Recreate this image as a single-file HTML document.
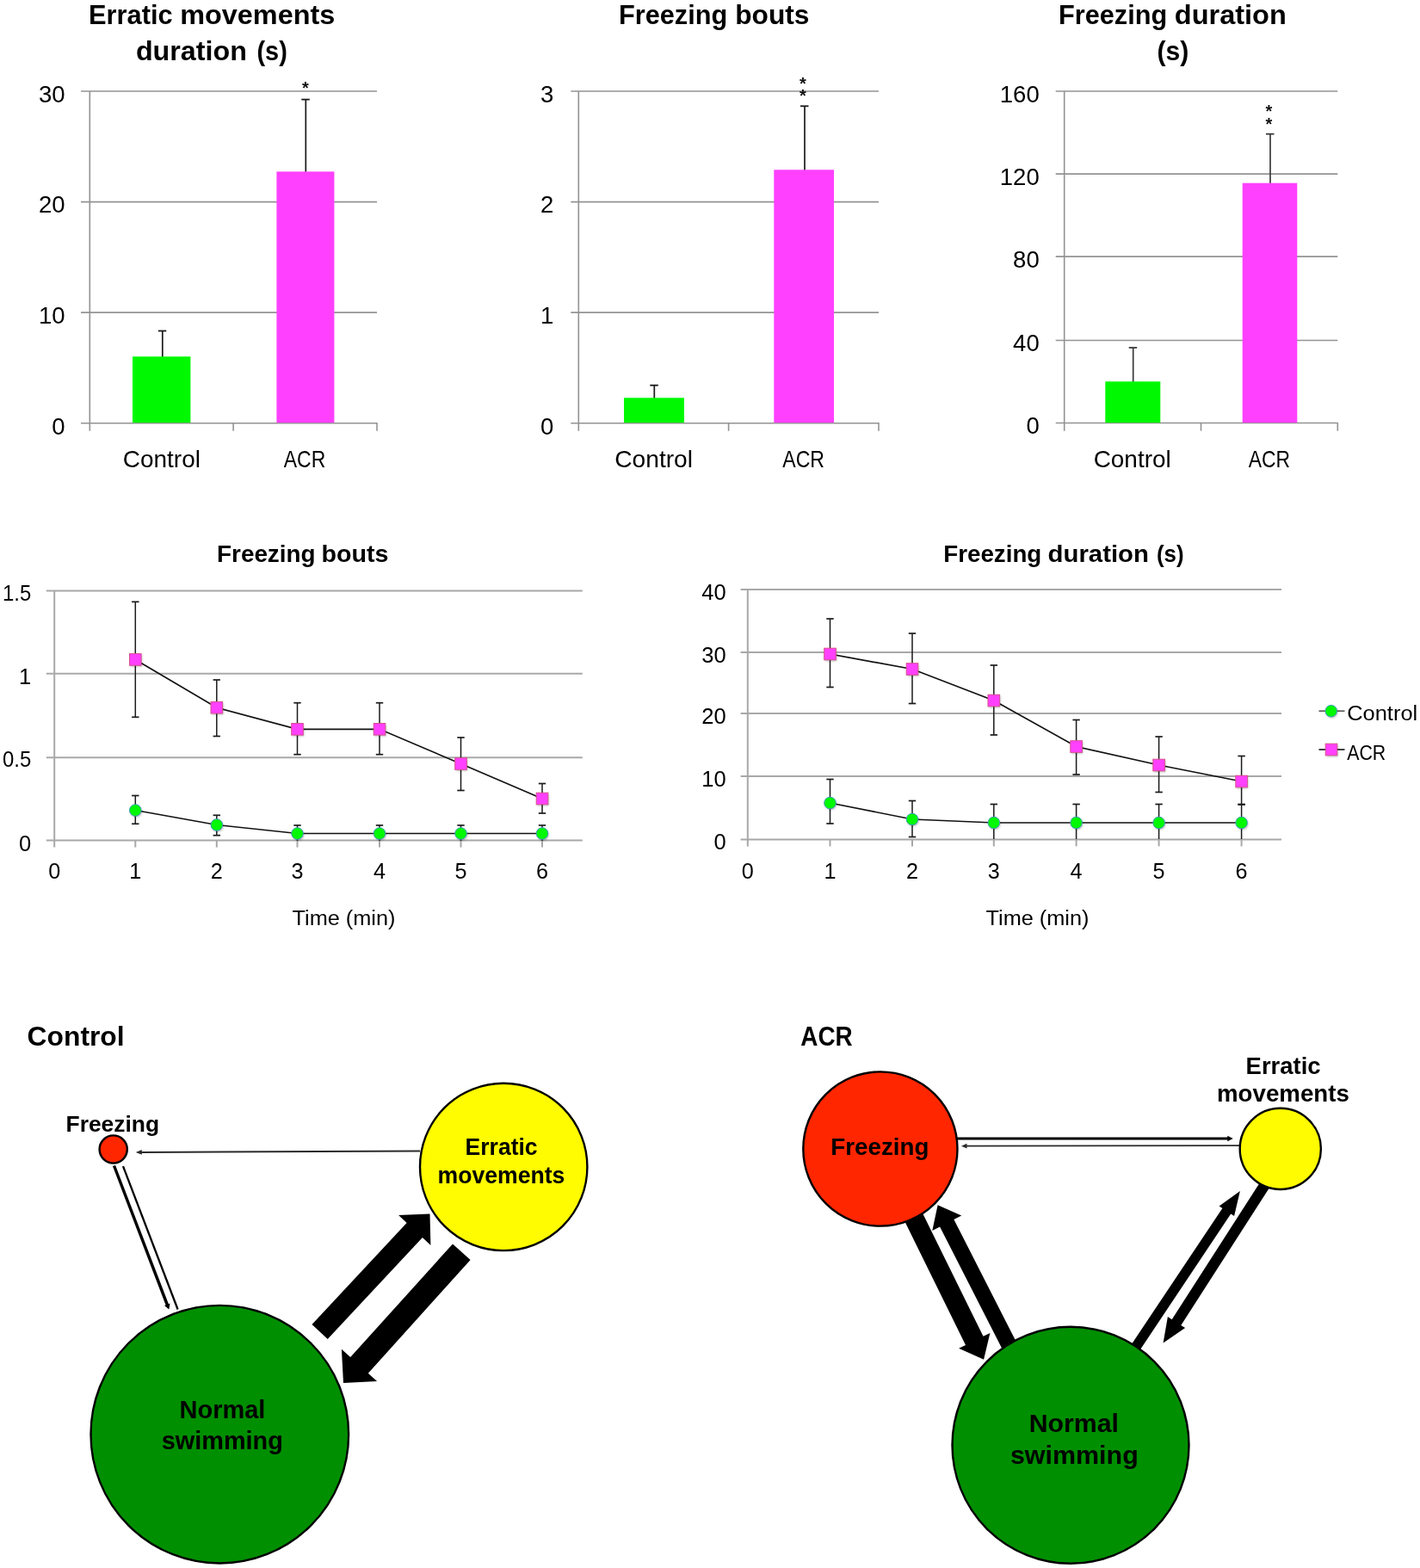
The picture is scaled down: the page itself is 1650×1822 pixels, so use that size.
<!DOCTYPE html>
<html lang="en"><head><meta charset="utf-8"><title>Figure</title>
<style>
html,body{margin:0;padding:0;background:#fff;}
svg{display:block;font-family:'Liberation Sans', 'DejaVu Sans', sans-serif;}
</style></head>
<body>
<svg width="1650" height="1822" viewBox="0 0 1650 1822">
<defs><filter id="bl" x="-50%" y="-50%" width="200%" height="200%"><feGaussianBlur stdDeviation="1.2"/></filter></defs>
<rect width="1650" height="1822" fill="#fff"/>
<g id="bars">
<line x1="94.0" y1="491.7" x2="438.0" y2="491.7" stroke="#939393" stroke-width="1.6"/>
<text x="60.2" y="504.5" font-size="28" textLength="15.3" lengthAdjust="spacingAndGlyphs" fill="#000">0</text>
<line x1="94.0" y1="363.1" x2="438.0" y2="363.1" stroke="#939393" stroke-width="1.6"/>
<text x="44.9" y="375.9" font-size="28" textLength="30.6" lengthAdjust="spacingAndGlyphs" fill="#000">10</text>
<line x1="94.0" y1="234.6" x2="438.0" y2="234.6" stroke="#939393" stroke-width="1.6"/>
<text x="44.9" y="247.4" font-size="28" textLength="30.6" lengthAdjust="spacingAndGlyphs" fill="#000">20</text>
<line x1="94.0" y1="106.0" x2="438.0" y2="106.0" stroke="#939393" stroke-width="1.6"/>
<text x="44.9" y="118.8" font-size="28" textLength="30.6" lengthAdjust="spacingAndGlyphs" fill="#000">30</text>
<line x1="104.3" y1="106.0" x2="104.3" y2="500.7" stroke="#939393" stroke-width="1.6"/>
<line x1="271.1" y1="491.7" x2="271.1" y2="500.7" stroke="#939393" stroke-width="1.6"/>
<line x1="438.0" y1="491.0" x2="438.0" y2="500.7" stroke="#939393" stroke-width="1.6"/>
<line x1="188.8" y1="384.5" x2="188.8" y2="415.3" stroke="#1a1a1a" stroke-width="1.7"/>
<line x1="183.8" y1="384.5" x2="193.3" y2="384.5" stroke="#1a1a1a" stroke-width="1.8"/>
<rect x="154.0" y="414.3" width="67.4" height="76.9" fill="#00f900"/>
<line x1="355.3" y1="115.6" x2="355.3" y2="200.4" stroke="#1a1a1a" stroke-width="1.7"/>
<line x1="350.3" y1="115.6" x2="359.8" y2="115.6" stroke="#1a1a1a" stroke-width="1.8"/>
<rect x="321.4" y="199.4" width="67.0" height="291.8" fill="#ff40ff"/>
<text x="142.8" y="542.8" font-size="27.4" textLength="90.1" lengthAdjust="spacingAndGlyphs" fill="#000">Control</text>
<text x="329.8" y="542.8" font-size="27.4" textLength="48.4" lengthAdjust="spacingAndGlyphs" fill="#000">ACR</text>
<text x="355.0" y="109.0" font-size="20" font-weight="700" text-anchor="middle" fill="#111">*</text>
<line x1="663.3" y1="491.7" x2="1021.0" y2="491.7" stroke="#939393" stroke-width="1.6"/>
<text x="628.0" y="504.5" font-size="28" textLength="15.3" lengthAdjust="spacingAndGlyphs" fill="#000">0</text>
<line x1="663.3" y1="363.1" x2="1021.0" y2="363.1" stroke="#939393" stroke-width="1.6"/>
<text x="628.0" y="375.9" font-size="28" textLength="15.3" lengthAdjust="spacingAndGlyphs" fill="#000">1</text>
<line x1="663.3" y1="234.6" x2="1021.0" y2="234.6" stroke="#939393" stroke-width="1.6"/>
<text x="628.0" y="247.4" font-size="28" textLength="15.3" lengthAdjust="spacingAndGlyphs" fill="#000">2</text>
<line x1="663.3" y1="106.0" x2="1021.0" y2="106.0" stroke="#939393" stroke-width="1.6"/>
<text x="628.0" y="118.8" font-size="28" textLength="15.3" lengthAdjust="spacingAndGlyphs" fill="#000">3</text>
<line x1="672.3" y1="106.0" x2="672.3" y2="500.7" stroke="#939393" stroke-width="1.6"/>
<line x1="846.6" y1="491.7" x2="846.6" y2="500.7" stroke="#939393" stroke-width="1.6"/>
<line x1="1021.0" y1="491.0" x2="1021.0" y2="500.7" stroke="#939393" stroke-width="1.6"/>
<line x1="760.3" y1="447.7" x2="760.3" y2="463.3" stroke="#1a1a1a" stroke-width="1.7"/>
<line x1="755.3" y1="447.7" x2="764.8" y2="447.7" stroke="#1a1a1a" stroke-width="1.8"/>
<rect x="725.0" y="462.3" width="70.0" height="28.9" fill="#00f900"/>
<line x1="935.0" y1="123.3" x2="935.0" y2="198.3" stroke="#1a1a1a" stroke-width="1.7"/>
<line x1="930.0" y1="123.3" x2="939.5" y2="123.3" stroke="#1a1a1a" stroke-width="1.8"/>
<rect x="899.3" y="197.3" width="69.7" height="293.9" fill="#ff40ff"/>
<text x="714.3" y="542.8" font-size="27.4" textLength="90.7" lengthAdjust="spacingAndGlyphs" fill="#000">Control</text>
<text x="909.3" y="542.8" font-size="27.4" textLength="48.7" lengthAdjust="spacingAndGlyphs" fill="#000">ACR</text>
<text x="933.0" y="104.0" font-size="20" font-weight="700" text-anchor="middle" fill="#111">*</text>
<text x="933.0" y="118.0" font-size="20" font-weight="700" text-anchor="middle" fill="#111">*</text>
<line x1="1226.7" y1="491.5" x2="1554.3" y2="491.5" stroke="#939393" stroke-width="1.6"/>
<text x="1192.4" y="504.3" font-size="28" textLength="15.3" lengthAdjust="spacingAndGlyphs" fill="#000">0</text>
<line x1="1226.7" y1="395.5" x2="1554.3" y2="395.5" stroke="#939393" stroke-width="1.6"/>
<text x="1177.1" y="408.3" font-size="28" textLength="30.6" lengthAdjust="spacingAndGlyphs" fill="#000">40</text>
<line x1="1226.7" y1="298.1" x2="1554.3" y2="298.1" stroke="#939393" stroke-width="1.6"/>
<text x="1177.1" y="310.9" font-size="28" textLength="30.6" lengthAdjust="spacingAndGlyphs" fill="#000">80</text>
<line x1="1226.7" y1="202.1" x2="1554.3" y2="202.1" stroke="#939393" stroke-width="1.6"/>
<text x="1161.8" y="214.9" font-size="28" textLength="45.9" lengthAdjust="spacingAndGlyphs" fill="#000">120</text>
<line x1="1226.7" y1="106.0" x2="1554.3" y2="106.0" stroke="#939393" stroke-width="1.6"/>
<text x="1161.8" y="118.8" font-size="28" textLength="45.9" lengthAdjust="spacingAndGlyphs" fill="#000">160</text>
<line x1="1236.7" y1="106.0" x2="1236.7" y2="500.7" stroke="#939393" stroke-width="1.6"/>
<line x1="1395.5" y1="491.7" x2="1395.5" y2="500.7" stroke="#939393" stroke-width="1.6"/>
<line x1="1554.3" y1="491.0" x2="1554.3" y2="500.7" stroke="#939393" stroke-width="1.6"/>
<line x1="1316.7" y1="404.0" x2="1316.7" y2="444.3" stroke="#3a3a3a" stroke-width="1.7"/>
<line x1="1311.7" y1="404.0" x2="1321.2" y2="404.0" stroke="#3a3a3a" stroke-width="1.8"/>
<rect x="1284.3" y="443.3" width="64.0" height="47.9" fill="#00f900"/>
<line x1="1476.0" y1="155.7" x2="1476.0" y2="213.7" stroke="#3a3a3a" stroke-width="1.7"/>
<line x1="1471.0" y1="155.7" x2="1480.5" y2="155.7" stroke="#3a3a3a" stroke-width="1.8"/>
<rect x="1443.7" y="212.7" width="63.6" height="278.5" fill="#ff40ff"/>
<text x="1270.7" y="542.8" font-size="27.4" textLength="90.0" lengthAdjust="spacingAndGlyphs" fill="#000">Control</text>
<text x="1450.7" y="542.8" font-size="27.4" textLength="48.3" lengthAdjust="spacingAndGlyphs" fill="#000">ACR</text>
<text x="1474.3" y="135.7" font-size="20" font-weight="700" text-anchor="middle" fill="#111">*</text>
<text x="1474.3" y="151.4" font-size="20" font-weight="700" text-anchor="middle" fill="#111">*</text>
</g>
<g id="titles">
<text y="28.2" font-size="31.5" font-weight="700" fill="#000"><tspan x="103.0" textLength="97.6" lengthAdjust="spacingAndGlyphs">Erratic</tspan> <tspan x="209.2" textLength="180.1" lengthAdjust="spacingAndGlyphs">movements</tspan></text>
<text y="69.9" font-size="31.5" font-weight="700" fill="#000"><tspan x="157.9" textLength="129.0" lengthAdjust="spacingAndGlyphs">duration</tspan> <tspan x="298.5" textLength="35.3" lengthAdjust="spacingAndGlyphs">(s)</tspan></text>
<text y="28.3" font-size="31.5" font-weight="700" fill="#000"><tspan x="719.0" textLength="126.2" lengthAdjust="spacingAndGlyphs">Freezing</tspan> <tspan x="854.2" textLength="86.3" lengthAdjust="spacingAndGlyphs">bouts</tspan></text>
<text y="28.3" font-size="31.5" font-weight="700" fill="#000"><tspan x="1230.0" textLength="126.2" lengthAdjust="spacingAndGlyphs">Freezing</tspan> <tspan x="1364.8" textLength="130.0" lengthAdjust="spacingAndGlyphs">duration</tspan></text>
<text y="70.3" font-size="31.5" font-weight="700" fill="#000"><tspan x="1344.5" textLength="36.9" lengthAdjust="spacingAndGlyphs">(s)</tspan></text>
<text y="653.2" font-size="28.3" font-weight="700" fill="#000"><tspan x="252.1" textLength="114.4" lengthAdjust="spacingAndGlyphs">Freezing</tspan> <tspan x="373.5" textLength="78.0" lengthAdjust="spacingAndGlyphs">bouts</tspan></text>
<text y="653.1" font-size="28.3" font-weight="700" fill="#000"><tspan x="1096.3" textLength="114.0" lengthAdjust="spacingAndGlyphs">Freezing</tspan> <tspan x="1217.6" textLength="117.4" lengthAdjust="spacingAndGlyphs">duration</tspan> <tspan x="1343.9" textLength="31.7" lengthAdjust="spacingAndGlyphs">(s)</tspan></text>
</g>
<g id="lines">
<line x1="53.8" y1="976.6" x2="676.8" y2="976.6" stroke="#a8a8a8" stroke-width="2.0"/>
<text x="22.1" y="988.5" font-size="25" textLength="14.2" lengthAdjust="spacingAndGlyphs" fill="#000">0</text>
<line x1="53.8" y1="880.3" x2="676.8" y2="880.3" stroke="#a8a8a8" stroke-width="2.0"/>
<text x="3.1" y="891.4" font-size="25" textLength="33.2" lengthAdjust="spacingAndGlyphs" fill="#000">0.5</text>
<line x1="53.8" y1="782.7" x2="676.8" y2="782.7" stroke="#a8a8a8" stroke-width="2.0"/>
<text x="22.1" y="795.4" font-size="25" textLength="14.2" lengthAdjust="spacingAndGlyphs" fill="#000">1</text>
<line x1="53.8" y1="686.6" x2="676.8" y2="686.6" stroke="#a8a8a8" stroke-width="2.0"/>
<text x="3.1" y="697.5" font-size="25" textLength="33.2" lengthAdjust="spacingAndGlyphs" fill="#000">1.5</text>
<line x1="63.2" y1="686.6" x2="63.2" y2="984.6" stroke="#a8a8a8" stroke-width="2.0"/>
<text x="63.2" y="1021.4" font-size="25.2" text-anchor="middle" fill="#000">0</text>
<line x1="157.3" y1="976.6" x2="157.3" y2="984.6" stroke="#a8a8a8" stroke-width="2.0"/>
<text x="157.3" y="1021.4" font-size="25.2" text-anchor="middle" fill="#000">1</text>
<line x1="251.8" y1="976.6" x2="251.8" y2="984.6" stroke="#a8a8a8" stroke-width="2.0"/>
<text x="251.8" y="1021.4" font-size="25.2" text-anchor="middle" fill="#000">2</text>
<line x1="345.5" y1="976.6" x2="345.5" y2="984.6" stroke="#a8a8a8" stroke-width="2.0"/>
<text x="345.5" y="1021.4" font-size="25.2" text-anchor="middle" fill="#000">3</text>
<line x1="441.0" y1="976.6" x2="441.0" y2="984.6" stroke="#a8a8a8" stroke-width="2.0"/>
<text x="441.0" y="1021.4" font-size="25.2" text-anchor="middle" fill="#000">4</text>
<line x1="535.5" y1="976.6" x2="535.5" y2="984.6" stroke="#a8a8a8" stroke-width="2.0"/>
<text x="535.5" y="1021.4" font-size="25.2" text-anchor="middle" fill="#000">5</text>
<line x1="630.0" y1="976.6" x2="630.0" y2="984.6" stroke="#a8a8a8" stroke-width="2.0"/>
<text x="630.0" y="1021.4" font-size="25.2" text-anchor="middle" fill="#000">6</text>
<text x="339.5" y="1075.3" font-size="24.7" textLength="120.0" lengthAdjust="spacingAndGlyphs" fill="#000">Time (min)</text>
<line x1="157.3" y1="924.5" x2="157.3" y2="957.3" stroke="#1a1a1a" stroke-width="1.5"/>
<line x1="153.1" y1="924.5" x2="161.5" y2="924.5" stroke="#1a1a1a" stroke-width="1.7"/>
<line x1="153.1" y1="957.3" x2="161.5" y2="957.3" stroke="#1a1a1a" stroke-width="1.7"/>
<line x1="251.8" y1="947.3" x2="251.8" y2="970.7" stroke="#1a1a1a" stroke-width="1.5"/>
<line x1="247.6" y1="947.3" x2="256.0" y2="947.3" stroke="#1a1a1a" stroke-width="1.7"/>
<line x1="247.6" y1="970.7" x2="256.0" y2="970.7" stroke="#1a1a1a" stroke-width="1.7"/>
<line x1="345.5" y1="959.0" x2="345.5" y2="977.0" stroke="#1a1a1a" stroke-width="1.5"/>
<line x1="341.3" y1="959.0" x2="349.7" y2="959.0" stroke="#1a1a1a" stroke-width="1.7"/>
<line x1="441.0" y1="959.0" x2="441.0" y2="977.0" stroke="#1a1a1a" stroke-width="1.5"/>
<line x1="436.8" y1="959.0" x2="445.2" y2="959.0" stroke="#1a1a1a" stroke-width="1.7"/>
<line x1="535.5" y1="959.0" x2="535.5" y2="977.0" stroke="#1a1a1a" stroke-width="1.5"/>
<line x1="531.3" y1="959.0" x2="539.7" y2="959.0" stroke="#1a1a1a" stroke-width="1.7"/>
<line x1="630.0" y1="959.0" x2="630.0" y2="977.0" stroke="#1a1a1a" stroke-width="1.5"/>
<line x1="625.8" y1="959.0" x2="634.2" y2="959.0" stroke="#1a1a1a" stroke-width="1.7"/>
<line x1="157.3" y1="699.3" x2="157.3" y2="833.3" stroke="#1a1a1a" stroke-width="1.5"/>
<line x1="153.1" y1="699.3" x2="161.5" y2="699.3" stroke="#1a1a1a" stroke-width="1.7"/>
<line x1="153.1" y1="833.3" x2="161.5" y2="833.3" stroke="#1a1a1a" stroke-width="1.7"/>
<line x1="251.8" y1="790.0" x2="251.8" y2="855.5" stroke="#1a1a1a" stroke-width="1.5"/>
<line x1="247.6" y1="790.0" x2="256.0" y2="790.0" stroke="#1a1a1a" stroke-width="1.7"/>
<line x1="247.6" y1="855.5" x2="256.0" y2="855.5" stroke="#1a1a1a" stroke-width="1.7"/>
<line x1="345.5" y1="816.7" x2="345.5" y2="876.7" stroke="#1a1a1a" stroke-width="1.5"/>
<line x1="341.3" y1="816.7" x2="349.7" y2="816.7" stroke="#1a1a1a" stroke-width="1.7"/>
<line x1="341.3" y1="876.7" x2="349.7" y2="876.7" stroke="#1a1a1a" stroke-width="1.7"/>
<line x1="441.0" y1="816.7" x2="441.0" y2="876.7" stroke="#1a1a1a" stroke-width="1.5"/>
<line x1="436.8" y1="816.7" x2="445.2" y2="816.7" stroke="#1a1a1a" stroke-width="1.7"/>
<line x1="436.8" y1="876.7" x2="445.2" y2="876.7" stroke="#1a1a1a" stroke-width="1.7"/>
<line x1="535.5" y1="857.0" x2="535.5" y2="918.5" stroke="#1a1a1a" stroke-width="1.5"/>
<line x1="531.3" y1="857.0" x2="539.7" y2="857.0" stroke="#1a1a1a" stroke-width="1.7"/>
<line x1="531.3" y1="918.5" x2="539.7" y2="918.5" stroke="#1a1a1a" stroke-width="1.7"/>
<line x1="630.0" y1="910.5" x2="630.0" y2="945.0" stroke="#1a1a1a" stroke-width="1.5"/>
<line x1="625.8" y1="910.5" x2="634.2" y2="910.5" stroke="#1a1a1a" stroke-width="1.7"/>
<line x1="625.8" y1="945.0" x2="634.2" y2="945.0" stroke="#1a1a1a" stroke-width="1.7"/>
<polyline points="157.3,941.5 251.8,958.5 345.5,968.5 441.0,968.5 535.5,968.5 630.0,968.5" fill="none" stroke="#111" stroke-width="1.7"/>
<polyline points="157.3,766.4 251.8,822.2 345.5,847.3 441.0,847.3 535.5,887.5 630.0,928.0" fill="none" stroke="#111" stroke-width="1.7"/>
<circle cx="158.3" cy="943.0" r="6.8" fill="#000" opacity="0.25" filter="url(#bl)"/>
<circle cx="157.3" cy="941.5" r="6.8" fill="#00f900" stroke="#3f9bbd" stroke-width="1"/>
<circle cx="252.8" cy="960.0" r="6.8" fill="#000" opacity="0.25" filter="url(#bl)"/>
<circle cx="251.8" cy="958.5" r="6.8" fill="#00f900" stroke="#3f9bbd" stroke-width="1"/>
<circle cx="346.5" cy="970.0" r="6.8" fill="#000" opacity="0.25" filter="url(#bl)"/>
<circle cx="345.5" cy="968.5" r="6.8" fill="#00f900" stroke="#3f9bbd" stroke-width="1"/>
<circle cx="442.0" cy="970.0" r="6.8" fill="#000" opacity="0.25" filter="url(#bl)"/>
<circle cx="441.0" cy="968.5" r="6.8" fill="#00f900" stroke="#3f9bbd" stroke-width="1"/>
<circle cx="536.5" cy="970.0" r="6.8" fill="#000" opacity="0.25" filter="url(#bl)"/>
<circle cx="535.5" cy="968.5" r="6.8" fill="#00f900" stroke="#3f9bbd" stroke-width="1"/>
<circle cx="631.0" cy="970.0" r="6.8" fill="#000" opacity="0.25" filter="url(#bl)"/>
<circle cx="630.0" cy="968.5" r="6.8" fill="#00f900" stroke="#3f9bbd" stroke-width="1"/>
<rect x="151.5" y="761.1" width="13.6" height="13.6" fill="#000" opacity="0.25" filter="url(#bl)"/>
<rect x="150.5" y="759.6" width="13.6" height="13.6" fill="#ff40ff" stroke="#d8508c" stroke-width="1"/>
<rect x="246.0" y="816.9" width="13.6" height="13.6" fill="#000" opacity="0.25" filter="url(#bl)"/>
<rect x="245.0" y="815.4" width="13.6" height="13.6" fill="#ff40ff" stroke="#d8508c" stroke-width="1"/>
<rect x="339.7" y="842.0" width="13.6" height="13.6" fill="#000" opacity="0.25" filter="url(#bl)"/>
<rect x="338.7" y="840.5" width="13.6" height="13.6" fill="#ff40ff" stroke="#d8508c" stroke-width="1"/>
<rect x="435.2" y="842.0" width="13.6" height="13.6" fill="#000" opacity="0.25" filter="url(#bl)"/>
<rect x="434.2" y="840.5" width="13.6" height="13.6" fill="#ff40ff" stroke="#d8508c" stroke-width="1"/>
<rect x="529.7" y="882.2" width="13.6" height="13.6" fill="#000" opacity="0.25" filter="url(#bl)"/>
<rect x="528.7" y="880.7" width="13.6" height="13.6" fill="#ff40ff" stroke="#d8508c" stroke-width="1"/>
<rect x="624.2" y="922.7" width="13.6" height="13.6" fill="#000" opacity="0.25" filter="url(#bl)"/>
<rect x="623.2" y="921.2" width="13.6" height="13.6" fill="#ff40ff" stroke="#d8508c" stroke-width="1"/>
<line x1="860.6" y1="975.4" x2="1489.0" y2="975.4" stroke="#a8a8a8" stroke-width="2.0"/>
<text x="829.4" y="987.0" font-size="25" textLength="14.2" lengthAdjust="spacingAndGlyphs" fill="#000">0</text>
<line x1="860.6" y1="902.1" x2="1489.0" y2="902.1" stroke="#a8a8a8" stroke-width="2.0"/>
<text x="815.2" y="914.2" font-size="25" textLength="28.4" lengthAdjust="spacingAndGlyphs" fill="#000">10</text>
<line x1="860.6" y1="829.1" x2="1489.0" y2="829.1" stroke="#a8a8a8" stroke-width="2.0"/>
<text x="815.2" y="841.1" font-size="25" textLength="28.4" lengthAdjust="spacingAndGlyphs" fill="#000">20</text>
<line x1="860.6" y1="758.0" x2="1489.0" y2="758.0" stroke="#a8a8a8" stroke-width="2.0"/>
<text x="815.2" y="770.2" font-size="25" textLength="28.4" lengthAdjust="spacingAndGlyphs" fill="#000">30</text>
<line x1="860.6" y1="685.0" x2="1489.0" y2="685.0" stroke="#a8a8a8" stroke-width="2.0"/>
<text x="815.2" y="697.4" font-size="25" textLength="28.4" lengthAdjust="spacingAndGlyphs" fill="#000">40</text>
<line x1="868.8" y1="685.0" x2="868.8" y2="983.4" stroke="#a8a8a8" stroke-width="2.0"/>
<text x="868.8" y="1021.4" font-size="25.2" text-anchor="middle" fill="#000">0</text>
<line x1="964.5" y1="975.4" x2="964.5" y2="983.4" stroke="#a8a8a8" stroke-width="2.0"/>
<text x="964.5" y="1021.4" font-size="25.2" text-anchor="middle" fill="#000">1</text>
<line x1="1060.0" y1="975.4" x2="1060.0" y2="983.4" stroke="#a8a8a8" stroke-width="2.0"/>
<text x="1060.0" y="1021.4" font-size="25.2" text-anchor="middle" fill="#000">2</text>
<line x1="1154.8" y1="975.4" x2="1154.8" y2="983.4" stroke="#a8a8a8" stroke-width="2.0"/>
<text x="1154.8" y="1021.4" font-size="25.2" text-anchor="middle" fill="#000">3</text>
<line x1="1250.6" y1="975.4" x2="1250.6" y2="983.4" stroke="#a8a8a8" stroke-width="2.0"/>
<text x="1250.6" y="1021.4" font-size="25.2" text-anchor="middle" fill="#000">4</text>
<line x1="1346.6" y1="975.4" x2="1346.6" y2="983.4" stroke="#a8a8a8" stroke-width="2.0"/>
<text x="1346.6" y="1021.4" font-size="25.2" text-anchor="middle" fill="#000">5</text>
<line x1="1442.6" y1="975.4" x2="1442.6" y2="983.4" stroke="#a8a8a8" stroke-width="2.0"/>
<text x="1442.6" y="1021.4" font-size="25.2" text-anchor="middle" fill="#000">6</text>
<text x="1145.5" y="1075.3" font-size="24.7" textLength="120.0" lengthAdjust="spacingAndGlyphs" fill="#000">Time (min)</text>
<line x1="964.5" y1="905.5" x2="964.5" y2="957.0" stroke="#1a1a1a" stroke-width="1.5"/>
<line x1="960.3" y1="905.5" x2="968.7" y2="905.5" stroke="#1a1a1a" stroke-width="1.7"/>
<line x1="960.3" y1="957.0" x2="968.7" y2="957.0" stroke="#1a1a1a" stroke-width="1.7"/>
<line x1="1060.0" y1="930.5" x2="1060.0" y2="972.5" stroke="#1a1a1a" stroke-width="1.5"/>
<line x1="1055.8" y1="930.5" x2="1064.2" y2="930.5" stroke="#1a1a1a" stroke-width="1.7"/>
<line x1="1055.8" y1="972.5" x2="1064.2" y2="972.5" stroke="#1a1a1a" stroke-width="1.7"/>
<line x1="1154.8" y1="934.5" x2="1154.8" y2="975.0" stroke="#1a1a1a" stroke-width="1.5"/>
<line x1="1150.6" y1="934.5" x2="1159.0" y2="934.5" stroke="#1a1a1a" stroke-width="1.7"/>
<line x1="1250.6" y1="934.5" x2="1250.6" y2="975.0" stroke="#1a1a1a" stroke-width="1.5"/>
<line x1="1246.4" y1="934.5" x2="1254.8" y2="934.5" stroke="#1a1a1a" stroke-width="1.7"/>
<line x1="1346.6" y1="934.5" x2="1346.6" y2="975.0" stroke="#1a1a1a" stroke-width="1.5"/>
<line x1="1342.4" y1="934.5" x2="1350.8" y2="934.5" stroke="#1a1a1a" stroke-width="1.7"/>
<line x1="1442.6" y1="934.5" x2="1442.6" y2="975.0" stroke="#1a1a1a" stroke-width="1.5"/>
<line x1="1438.4" y1="934.5" x2="1446.8" y2="934.5" stroke="#1a1a1a" stroke-width="1.7"/>
<line x1="964.5" y1="719.0" x2="964.5" y2="798.5" stroke="#1a1a1a" stroke-width="1.5"/>
<line x1="960.3" y1="719.0" x2="968.7" y2="719.0" stroke="#1a1a1a" stroke-width="1.7"/>
<line x1="960.3" y1="798.5" x2="968.7" y2="798.5" stroke="#1a1a1a" stroke-width="1.7"/>
<line x1="1060.0" y1="736.0" x2="1060.0" y2="817.5" stroke="#1a1a1a" stroke-width="1.5"/>
<line x1="1055.8" y1="736.0" x2="1064.2" y2="736.0" stroke="#1a1a1a" stroke-width="1.7"/>
<line x1="1055.8" y1="817.5" x2="1064.2" y2="817.5" stroke="#1a1a1a" stroke-width="1.7"/>
<line x1="1154.8" y1="773.0" x2="1154.8" y2="854.0" stroke="#1a1a1a" stroke-width="1.5"/>
<line x1="1150.6" y1="773.0" x2="1159.0" y2="773.0" stroke="#1a1a1a" stroke-width="1.7"/>
<line x1="1150.6" y1="854.0" x2="1159.0" y2="854.0" stroke="#1a1a1a" stroke-width="1.7"/>
<line x1="1250.6" y1="836.5" x2="1250.6" y2="900.0" stroke="#1a1a1a" stroke-width="1.5"/>
<line x1="1246.4" y1="836.5" x2="1254.8" y2="836.5" stroke="#1a1a1a" stroke-width="1.7"/>
<line x1="1246.4" y1="900.0" x2="1254.8" y2="900.0" stroke="#1a1a1a" stroke-width="1.7"/>
<line x1="1346.6" y1="856.0" x2="1346.6" y2="920.5" stroke="#1a1a1a" stroke-width="1.5"/>
<line x1="1342.4" y1="856.0" x2="1350.8" y2="856.0" stroke="#1a1a1a" stroke-width="1.7"/>
<line x1="1342.4" y1="920.5" x2="1350.8" y2="920.5" stroke="#1a1a1a" stroke-width="1.7"/>
<line x1="1442.6" y1="878.5" x2="1442.6" y2="935.0" stroke="#1a1a1a" stroke-width="1.5"/>
<line x1="1438.4" y1="878.5" x2="1446.8" y2="878.5" stroke="#1a1a1a" stroke-width="1.7"/>
<line x1="1438.4" y1="935.0" x2="1446.8" y2="935.0" stroke="#1a1a1a" stroke-width="1.7"/>
<polyline points="964.5,933.0 1060.0,952.0 1154.8,956.0 1250.6,956.0 1346.6,956.0 1442.6,956.0" fill="none" stroke="#111" stroke-width="1.7"/>
<polyline points="964.5,760.0 1060.0,777.5 1154.8,814.0 1250.6,867.5 1346.6,889.0 1442.6,908.0" fill="none" stroke="#111" stroke-width="1.7"/>
<circle cx="965.5" cy="934.5" r="6.8" fill="#000" opacity="0.25" filter="url(#bl)"/>
<circle cx="964.5" cy="933.0" r="6.8" fill="#00f900" stroke="#3f9bbd" stroke-width="1"/>
<circle cx="1061.0" cy="953.5" r="6.8" fill="#000" opacity="0.25" filter="url(#bl)"/>
<circle cx="1060.0" cy="952.0" r="6.8" fill="#00f900" stroke="#3f9bbd" stroke-width="1"/>
<circle cx="1155.8" cy="957.5" r="6.8" fill="#000" opacity="0.25" filter="url(#bl)"/>
<circle cx="1154.8" cy="956.0" r="6.8" fill="#00f900" stroke="#3f9bbd" stroke-width="1"/>
<circle cx="1251.6" cy="957.5" r="6.8" fill="#000" opacity="0.25" filter="url(#bl)"/>
<circle cx="1250.6" cy="956.0" r="6.8" fill="#00f900" stroke="#3f9bbd" stroke-width="1"/>
<circle cx="1347.6" cy="957.5" r="6.8" fill="#000" opacity="0.25" filter="url(#bl)"/>
<circle cx="1346.6" cy="956.0" r="6.8" fill="#00f900" stroke="#3f9bbd" stroke-width="1"/>
<circle cx="1443.6" cy="957.5" r="6.8" fill="#000" opacity="0.25" filter="url(#bl)"/>
<circle cx="1442.6" cy="956.0" r="6.8" fill="#00f900" stroke="#3f9bbd" stroke-width="1"/>
<rect x="958.7" y="754.7" width="13.6" height="13.6" fill="#000" opacity="0.25" filter="url(#bl)"/>
<rect x="957.7" y="753.2" width="13.6" height="13.6" fill="#ff40ff" stroke="#d8508c" stroke-width="1"/>
<rect x="1054.2" y="772.2" width="13.6" height="13.6" fill="#000" opacity="0.25" filter="url(#bl)"/>
<rect x="1053.2" y="770.7" width="13.6" height="13.6" fill="#ff40ff" stroke="#d8508c" stroke-width="1"/>
<rect x="1149.0" y="808.7" width="13.6" height="13.6" fill="#000" opacity="0.25" filter="url(#bl)"/>
<rect x="1148.0" y="807.2" width="13.6" height="13.6" fill="#ff40ff" stroke="#d8508c" stroke-width="1"/>
<rect x="1244.8" y="862.2" width="13.6" height="13.6" fill="#000" opacity="0.25" filter="url(#bl)"/>
<rect x="1243.8" y="860.7" width="13.6" height="13.6" fill="#ff40ff" stroke="#d8508c" stroke-width="1"/>
<rect x="1340.8" y="883.7" width="13.6" height="13.6" fill="#000" opacity="0.25" filter="url(#bl)"/>
<rect x="1339.8" y="882.2" width="13.6" height="13.6" fill="#ff40ff" stroke="#d8508c" stroke-width="1"/>
<rect x="1436.8" y="902.7" width="13.6" height="13.6" fill="#000" opacity="0.25" filter="url(#bl)"/>
<rect x="1435.8" y="901.2" width="13.6" height="13.6" fill="#ff40ff" stroke="#d8508c" stroke-width="1"/>
<line x1="1532.5" y1="826.2" x2="1562.5" y2="826.2" stroke="#555" stroke-width="1.6"/>
<circle cx="1547.7" cy="827.7" r="6.8" fill="#000" opacity="0.25" filter="url(#bl)"/>
<circle cx="1546.7" cy="826.2" r="6.8" fill="#00f900" stroke="#3f9bbd" stroke-width="1"/>
<text x="1565.2" y="837.0" font-size="24.7" textLength="82.0" lengthAdjust="spacingAndGlyphs" fill="#000">Control</text>
<line x1="1532.5" y1="871.0" x2="1562.5" y2="871.0" stroke="#111" stroke-width="1.6"/>
<rect x="1541.2" y="865.7" width="13.6" height="13.6" fill="#000" opacity="0.25" filter="url(#bl)"/>
<rect x="1540.2" y="864.2" width="13.6" height="13.6" fill="#ff40ff" stroke="#d8508c" stroke-width="1"/>
<text x="1565.2" y="883.1" font-size="24.7" textLength="45.0" lengthAdjust="spacingAndGlyphs" fill="#000">ACR</text>
</g>
<g id="diagrams">
<text x="31.6" y="1215.0" font-size="31.5" font-weight="700" textLength="113.0" lengthAdjust="spacingAndGlyphs" fill="#000">Control</text>
<text x="930.3" y="1215.0" font-size="31.5" font-weight="700" textLength="60.4" lengthAdjust="spacingAndGlyphs" fill="#000">ACR</text>
<polygon points="488.0,1336.6 164.8,1337.9 164.8,1336.0 157.8,1338.9 164.8,1341.8 164.8,1339.9 488.0,1338.6" fill="#2a2a2a"/>
<polygon points="130.9,1355.1 192.6,1516.5 191.0,1517.1 196.4,1521.5 197.5,1514.6 195.9,1515.3 134.1,1353.9" fill="#000"/>
<line x1="143.0" y1="1355.2" x2="206.6" y2="1521.5" stroke="#000" stroke-width="2.3"/>
<polygon points="380.7,1556.0 490.9,1438.0 500.4,1446.9 499.5,1410.5 463.1,1412.1 472.6,1421.0 362.5,1539.0" fill="#000"/>
<polygon points="526.0,1445.4 407.2,1577.1 396.9,1567.8 399.0,1606.9 438.1,1605.0 427.8,1595.7 546.6,1464.0" fill="#000"/>
<circle cx="131.7" cy="1335.5" r="16.1" fill="#ff2600" stroke="#000" stroke-width="2.4"/>
<circle cx="585.2" cy="1355.9" r="97.2" fill="#fffb00" stroke="#000" stroke-width="2.4"/>
<circle cx="255.3" cy="1666.7" r="149.8" fill="#008f00" stroke="#000" stroke-width="2.4"/>
<text x="76.5" y="1315.2" font-size="26.4" font-weight="700" textLength="108.6" lengthAdjust="spacingAndGlyphs" fill="#000">Freezing</text>
<text x="540.6" y="1342.0" font-size="27" font-weight="700" textLength="84.0" lengthAdjust="spacingAndGlyphs" fill="#000">Erratic</text>
<text x="508.6" y="1374.7" font-size="27" font-weight="700" textLength="147.8" lengthAdjust="spacingAndGlyphs" fill="#000">movements</text>
<text x="208.6" y="1647.5" font-size="29.4" font-weight="700" textLength="99.8" lengthAdjust="spacingAndGlyphs" fill="#000">Normal</text>
<text x="187.7" y="1683.6" font-size="29.4" font-weight="700" textLength="141.2" lengthAdjust="spacingAndGlyphs" fill="#000">swimming</text>
<polygon points="1112.0,1324.5 1426.3,1324.5 1426.3,1326.2 1432.8,1323.0 1426.3,1319.8 1426.3,1321.5 1112.0,1321.5" fill="#000"/>
<polygon points="1440.0,1330.2 1123.5,1330.7 1123.5,1328.8 1117.0,1331.7 1123.5,1334.6 1123.5,1332.6 1440.0,1332.0" fill="#2a2a2a"/>
<polygon points="1048.7,1414.1 1122.0,1562.9 1114.1,1566.8 1143.1,1579.8 1150.4,1548.9 1142.5,1552.8 1069.2,1404.0" fill="#000"/>
<polygon points="1184.8,1567.0 1108.4,1417.1 1117.2,1412.6 1089.6,1400.3 1083.3,1429.9 1092.1,1425.4 1168.5,1575.3" fill="#000"/>
<polygon points="1321.1,1573.9 1430.2,1410.6 1434.1,1413.1 1440.9,1384.0 1416.6,1401.4 1420.4,1404.0 1311.2,1567.4" fill="#000"/>
<polygon points="1468.2,1367.5 1361.7,1533.2 1356.9,1530.1 1351.6,1560.6 1377.1,1543.1 1372.3,1540.0 1478.8,1374.3" fill="#000"/>
<circle cx="1022.9" cy="1335.0" r="89.6" fill="#ff2600" stroke="#000" stroke-width="2.4"/>
<circle cx="1487.8" cy="1334.9" r="47.1" fill="#fffb00" stroke="#000" stroke-width="2.4"/>
<circle cx="1244.0" cy="1679.3" r="137.5" fill="#008f00" stroke="#000" stroke-width="2.4"/>
<text x="965.3" y="1341.9" font-size="27.4" font-weight="700" textLength="114.2" lengthAdjust="spacingAndGlyphs" fill="#000">Freezing</text>
<text x="1447.6" y="1247.8" font-size="27.3" font-weight="700" textLength="87.0" lengthAdjust="spacingAndGlyphs" fill="#000">Erratic</text>
<text x="1414.0" y="1280.4" font-size="27.3" font-weight="700" textLength="153.8" lengthAdjust="spacingAndGlyphs" fill="#000">movements</text>
<text x="1195.7" y="1663.8" font-size="29.7" font-weight="700" textLength="104.3" lengthAdjust="spacingAndGlyphs" fill="#000">Normal</text>
<text x="1173.9" y="1700.7" font-size="29.7" font-weight="700" textLength="148.9" lengthAdjust="spacingAndGlyphs" fill="#000">swimming</text>
</g>
</svg>
</body></html>
